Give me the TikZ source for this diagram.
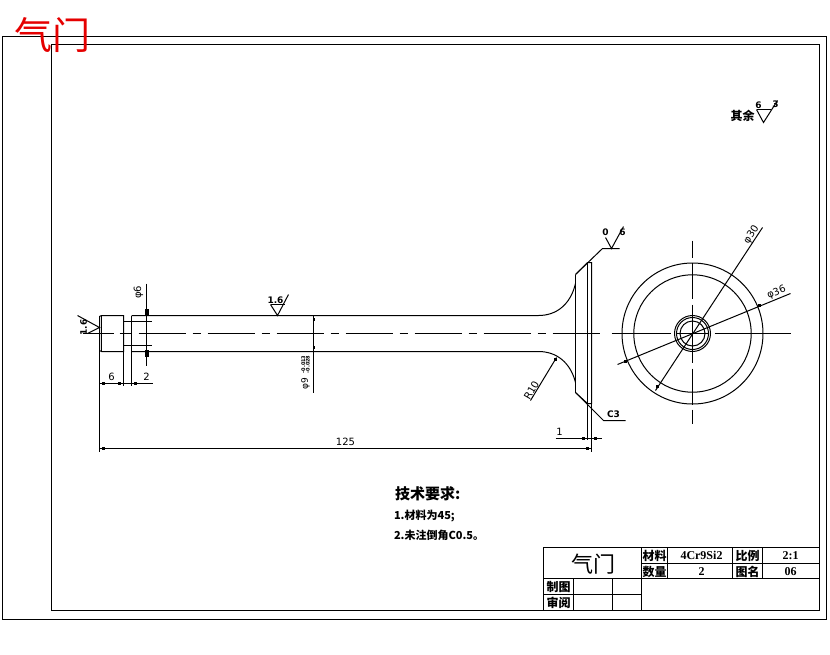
\documentclass[tikz,border=0pt]{standalone}
\usepackage{fontspec}
\setmainfont{Liberation Serif}
\setsansfont{DejaVu Sans}
\newfontfamily\cjk{Noto Sans CJK SC}
\usepackage{tikz}
\usetikzlibrary{positioning,arrows.meta}

\begin{document}
\begin{tikzpicture}[x=1pt,y=-1pt,line width=1pt,line cap=butt]
  \tikzstyle{tick}=[fill=black,inner sep=0pt,minimum width=3pt,minimum height=3pt]
  \tikzstyle{dimtext}=[inner sep=0pt,font=\sffamily\fontsize{10}{10}\selectfont]
  \tikzstyle{finish}=[inner sep=0pt,font=\bfseries\sffamily\fontsize{9}{9}\selectfont]
  \tikzstyle{cell}=[inner sep=0pt,font=\cjk\bfseries\fontsize{12}{12}\selectfont]
  \tikzstyle{cellnum}=[inner sep=0pt,font=\bfseries\fontsize{12}{12}\selectfont]
  \tikzstyle{note}=[inner sep=0pt,anchor=west,font=\cjk\bfseries\fontsize{11}{11}\selectfont]

  \useasboundingbox (0,0) rectangle (830,654);

  \begin{scope}[shift={(0.5,0.5)}]
  % frames
  \draw (2,36) rectangle (826,619);
  \draw (51,44) rectangle (819,610);

  % red title
  \node[inner sep=0pt,text=red!90!black,font=\cjk\fontsize{38}{38}\selectfont] (redtitle) at (52,35) {气门};

  % shaft
  \draw (99,333) -- (99,316) -- (101,315) -- (123,315) -- (123,351) -- (101,351) -- (99,350) -- cycle;
  \draw (101,315) -- (101,351);
  \draw (123,321) -- (151,321);
  \draw (123,345) -- (151,345);
  \draw (131,315) -- (131,351);
  \draw (131,315) -- (538,315) .. controls (556,315) and (570,304) .. (575,283);
  \draw (131,351) -- (538,351) .. controls (556,351) and (570,362) .. (575,382);
  \draw (575,274) -- (575,392);
  \draw (575,274) -- (587,262) -- (591,262) -- (591,403) -- (587,403) -- (575,392);
  \draw (587,262) -- (587,439);
  \draw (591,403) -- (591,451);

  % center lines
  \draw (82,333) -- (113,333);
  \draw (119,333) -- (130,333);
  \draw[dash pattern=on 47pt off 7pt on 8pt off 7pt] (138,333) -- (599,333);
  \draw (611,333) -- (670,333);
  \draw (676,333) -- (708,333);
  \draw (714,333) -- (790,333);
  \draw (692,240) -- (692,257);
  \draw (692,262) -- (692,298);
  \draw (692,304) -- (692,362);
  \draw (692,368) -- (692,404);
  \draw (692,409) -- (692,423);

  % side view
  \draw (692,333) circle (70.5);
  \draw (692,333) circle (58.7);
  \draw (692,333) circle (18);
  \draw (692,333) circle (16);
  \draw (692,333) circle (12.5);

  % dimension lines
  \draw (146,283) -- (146,365);
  \node[tick,minimum width=4pt,minimum height=7pt] (t1) at (146,312) {};
  \node[tick,minimum width=4pt,minimum height=7pt] (t2) at (146,353) {};
  \node[dimtext,rotate=90] (d6) at (138,292) {φ6};

  \draw (99,383) -- (152,383);
  \draw (123,351) -- (123,385);
  \draw (131,351) -- (131,385);
  \node[tick] (t3) at (103,383) {};
  \node[tick] (t4) at (119,383) {};
  \node[tick] (t5) at (135,383) {};
  \node[dimtext] (d7) at (111,376) {6};
  \node[dimtext] (d8) at (146,376) {2};

  \draw (313,315) -- (313,392);
  \node[tick,minimum width=2pt] (t6) at (313,319) {};
  \node[tick,minimum width=2pt] (t7) at (313,347) {};
  \node[dimtext,rotate=90,font=\sffamily\fontsize{9}{9}\selectfont] (d9) at (305,383) {φ9};
  \node[inner sep=0pt,rotate=90,align=left,font=\bfseries\sffamily\fontsize{5}{4.5}\selectfont] (d10) at (305,364) {-0.013\\-0.028};

  \draw (99,333) -- (99,451);
  \draw (99,448) -- (591,448);
  \node[tick] (t8) at (103,448) {};
  \node[tick] (t9) at (587,448) {};
  \node[dimtext] (d125) at (345,441) {125};

  \draw (555,438) -- (601,438);
  \node[tick] (t10) at (583,438) {};
  \node[tick] (t11) at (595,438) {};
  \node[dimtext] (d1) at (559,431) {1};

  % leaders on the view
  \draw (530,400) -- (556,357);
  \node[tick] (t12) at (555,359) {};
  \node[dimtext,rotate=60] (r10) at (531,390) {R10};
  \draw (655,390) -- (762,227);
  \node[tick] (t13) at (657,386) {};
  \node[dimtext,rotate=57] (d30) at (751,234) {φ30};
  \draw (617,364) -- (790,293);
  \node[tick] (t14) at (625,361) {};
  \node[tick] (t15) at (759,305) {};
  \node[dimtext,rotate=22] (d36) at (776,292) {φ36};

  % surface finish
  \draw (77,315) -- (99,327) -- (87,333);
  \node[finish,rotate=90] (f1) at (83,327) {1.6};
  \draw (270,304) -- (277,315) -- (288,294);
  \draw (270,304) -- (284,304);
  \node[finish] (f2) at (275,300) {1.6};
  \draw (575,274) -- (602,248) -- (619,248);
  \draw (605,237) -- (611,248) -- (623,226);
  \node[finish] (f3) at (605,232) {0};
  \node[finish] (f4) at (622,232) {6};
  \draw (575,392) -- (603,420) -- (625,420);
  \node[finish] (f5) at (613,414) {C3};
  \draw (756,109) -- (763,122) -- (777,100);
  \draw (756,109) -- (770,109);
  \node[finish] (f6) at (758,105) {6};
  \node[finish] (f7) at (775,104) {3};
  \node[cell] (rest) at (742,115) {其余};

  % notes
  \node[note,font=\cjk\bfseries\fontsize{15}{15}\selectfont] (req) at (394,493) {技术要求:};
  \node[note] (req1) at (393,516) {1.材料为45;};
  \node[note] (req2) at (393,535) {2.未注倒角C0.5。};

  % title block
  \draw (543,547) rectangle (819,610);
  \draw (641,563) -- (819,563);
  \draw (543,578) -- (819,578);
  \draw (543,594) -- (641,594);
  \draw (641,547) -- (641,610);
  \draw (667,547) -- (667,578);
  \draw (732,547) -- (732,578);
  \draw (762,547) -- (762,578);
  \draw (573,578) -- (573,610);
  \draw (612,578) -- (612,610);
  \node[inner sep=0pt,font=\cjk\fontsize{22}{22}\selectfont] (name) at (593,564) {气门};
  \node[cell] (c1) at (654,555) {材料};
  \node[cellnum] (c2) at (701,555) {4Cr9Si2};
  \node[cell] (c3) at (747,555) {比例};
  \node[cellnum] (c4) at (790,555) {2:1};
  \node[cell] (c5) at (654,571) {数量};
  \node[cellnum] (c6) at (701,571) {2};
  \node[cell] (c7) at (747,571) {图名};
  \node[cellnum] (c8) at (790,571) {06};
  \node[cell] (c9) at (558,586) {制图};
  \node[cell] (c10) at (558,602) {审阅};
  \end{scope}
\end{tikzpicture}
\end{document}
